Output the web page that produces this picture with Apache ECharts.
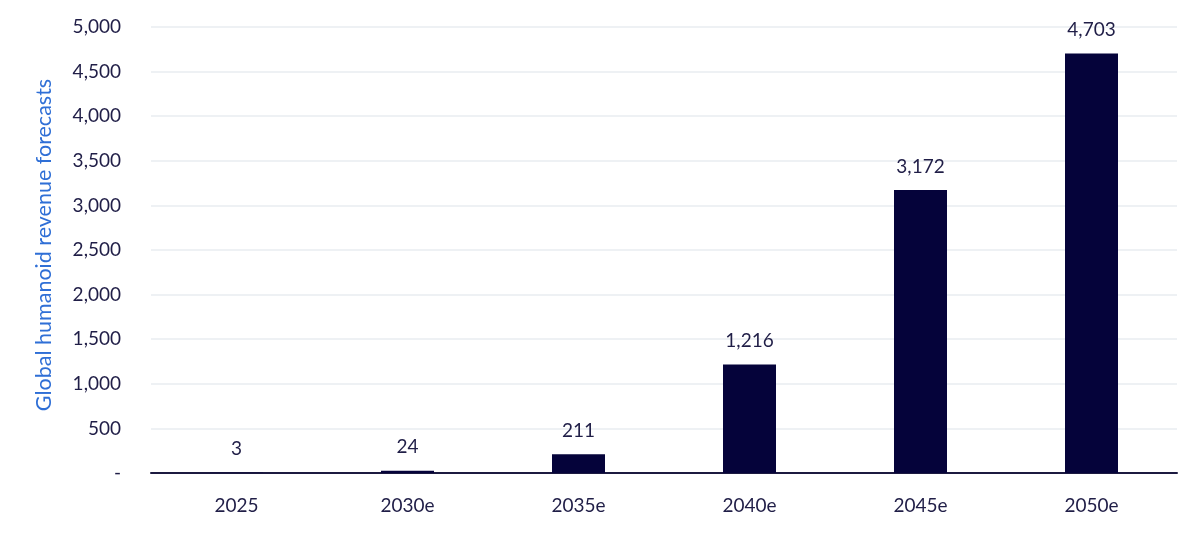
<!doctype html>
<html>
	<head>
		<meta charset="utf-8">
		<title>Global humanoid revenue forecasts</title>
		<style>
			html, body { margin: 0; padding: 0; background: #fff; }
			#main { width: 1200px; height: 535px; }
		</style>
	</head>
	<body>
		<div id="main"></div>
		<script src="https://cdn.jsdelivr.net/npm/echarts@6/dist/echarts.min.js"></script>
		<script type="text/javascript">
			// data
			var years = ['2025', '2030e', '2035e', '2040e', '2045e', '2050e'];
			var revenue = [3, 24, 211, 1216, 3172, 4703];

			var textColor = '#201e47';
			var myChart = echarts.init(document.getElementById('main'));

			function fmt(v) {
				if (v === 0) return '-';
				return v.toLocaleString('en-US');
			}

			var option = {
				animation: false,
				grid: {
					left: 151,
					right: 23,
					top: 27,
					bottom: 62
				},
				xAxis: {
					type: 'category',
					data: years,
					axisLine: { lineStyle: { color: '#1c1a40', width: 2 } },
					axisTick: { show: false },
					axisLabel: {
						color: textColor,
						fontSize: 19,
						fontFamily: 'Lato',
						margin: 23
					}
				},
				yAxis: {
					type: 'value',
					min: 0,
					max: 5000,
					interval: 500,
					name: 'Global humanoid revenue forecasts',
					nameLocation: 'middle',
					nameGap: 96,
					nameTextStyle: {
						color: '#2f6fd6',
						fontSize: 21.5,
						fontFamily: 'Lato',
						padding: [0, 0, 0, 10]
					},
					axisLine: { show: false },
					axisTick: { show: false },
					splitLine: { lineStyle: { color: '#eef1f4', width: 2 } },
					axisLabel: {
						color: textColor,
						fontSize: 19,
						fontFamily: 'Lato',
						margin: 30,
						formatter: fmt
					}
				},
				series: [{
					type: 'bar',
					data: revenue,
					barWidth: 53,
					itemStyle: { color: '#05033a' },
					label: {
						show: true,
						position: 'top',
						distance: 14,
						color: textColor,
						fontSize: 19,
						fontFamily: 'Lato',
						formatter: function (p) { return p.value.toLocaleString('en-US'); }
					}
				}]
			};

			myChart.setOption(option);
		</script>
	</body>
</html>
